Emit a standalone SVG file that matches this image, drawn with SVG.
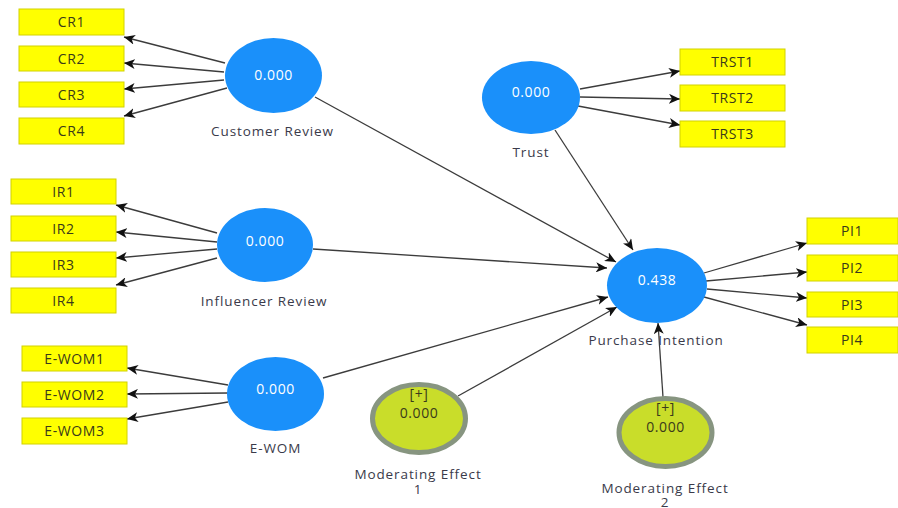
<svg xmlns="http://www.w3.org/2000/svg" width="898" height="508" viewBox="0 0 898 508">
  <style>
    .ind rect { fill: #FFFF00; stroke: #D2D200; stroke-width: 1; }
    .ind text { font-family: "Open Sans", "Noto Sans", sans-serif; font-size: 14px; letter-spacing: 0.6px; fill: #3a3a1a; text-anchor: middle; }
    .lv ellipse { fill: #1A90FA; }
    .lv .val { font-family: "Open Sans", "Noto Sans", sans-serif; font-size: 14px; letter-spacing: 0.6px; fill: #ffffff; text-anchor: middle; }
    .name { font-family: "Open Sans", "Noto Sans", sans-serif; font-size: 13.5px; letter-spacing: 0.9px; fill: #3a3a4a; text-anchor: middle; }
    .mod ellipse { fill: #C9DD2A; stroke: #879580; stroke-width: 5; }
    .mod .val { font-family: "Open Sans", "Noto Sans", sans-serif; font-size: 14px; letter-spacing: 0.6px; fill: #3a3a1a; text-anchor: middle; }
    #connectors line { stroke: #3c3c3c; stroke-width: 1.3; marker-end: url(#arrow); }
  </style>
  <defs>
    <marker id="arrow" markerUnits="userSpaceOnUse" markerWidth="12" markerHeight="10" refX="11" refY="5" orient="auto">
      <path d="M0,0 L11,5 L0,10 L3,5 z" fill="#111"/>
    </marker>
  </defs>
  <rect width="898" height="508" fill="#ffffff"/>

  <g id="connectors">
    <!-- Customer Review indicators -->
    <line x1="225" y1="63" x2="124" y2="37"/>
    <line x1="224" y1="72" x2="124" y2="63"/>
    <line x1="224" y1="80" x2="124" y2="89"/>
    <line x1="227" y1="88" x2="124" y2="116"/>
    <!-- Influencer Review indicators -->
    <line x1="217" y1="233" x2="116" y2="205"/>
    <line x1="217" y1="242" x2="116" y2="232"/>
    <line x1="217" y1="249" x2="116" y2="258"/>
    <line x1="217" y1="258" x2="116" y2="285"/>
    <!-- E-WOM indicators -->
    <line x1="228" y1="385" x2="127" y2="368"/>
    <line x1="228" y1="393" x2="127" y2="394"/>
    <line x1="228" y1="402" x2="127" y2="419"/>
    <!-- Trust indicators -->
    <line x1="580" y1="89" x2="680" y2="71"/>
    <line x1="580" y1="97" x2="680" y2="99"/>
    <line x1="578" y1="106" x2="680" y2="125"/>
    <!-- Purchase Intention indicators -->
    <line x1="704" y1="273" x2="807" y2="243"/>
    <line x1="706" y1="281" x2="807" y2="272"/>
    <line x1="707" y1="289" x2="807" y2="298"/>
    <line x1="704" y1="297" x2="807" y2="325"/>
    <!-- Structural paths -->
    <line x1="315" y1="97" x2="616" y2="262"/>
    <line x1="555" y1="130" x2="633" y2="250"/>
    <line x1="313" y1="249" x2="607" y2="268"/>
    <line x1="323" y1="378" x2="608" y2="297"/>
    <line x1="458" y1="396" x2="617" y2="307"/>
    <line x1="663" y1="397" x2="658" y2="323"/>
  </g>

  <!-- Indicators -->
  <g id="CR1" class="ind"><rect x="19" y="9" width="105" height="26"/><text x="71.5" y="27">CR1</text></g>
  <g id="CR2" class="ind"><rect x="19" y="46" width="105" height="25"/><text x="71.5" y="63.5">CR2</text></g>
  <g id="CR3" class="ind"><rect x="19" y="82" width="105" height="25"/><text x="71.5" y="99.5">CR3</text></g>
  <g id="CR4" class="ind"><rect x="19" y="118" width="105" height="26"/><text x="71.5" y="136">CR4</text></g>

  <g id="IR1" class="ind"><rect x="11" y="179" width="105" height="25"/><text x="63.5" y="196.5">IR1</text></g>
  <g id="IR2" class="ind"><rect x="11" y="216" width="105" height="25"/><text x="63.5" y="233.5">IR2</text></g>
  <g id="IR3" class="ind"><rect x="11" y="252" width="105" height="25"/><text x="63.5" y="269.5">IR3</text></g>
  <g id="IR4" class="ind"><rect x="11" y="288" width="105" height="25"/><text x="63.5" y="305.5">IR4</text></g>

  <g id="EWOM1" class="ind"><rect x="22" y="346" width="105" height="25"/><text x="74.5" y="363.5">E-WOM1</text></g>
  <g id="EWOM2" class="ind"><rect x="22" y="382" width="105" height="25"/><text x="74.5" y="399.5">E-WOM2</text></g>
  <g id="EWOM3" class="ind"><rect x="22" y="418" width="105" height="26"/><text x="74.5" y="436">E-WOM3</text></g>

  <g id="TRST1" class="ind"><rect x="680" y="49" width="105" height="26"/><text x="732.5" y="67">TRST1</text></g>
  <g id="TRST2" class="ind"><rect x="680" y="85" width="105" height="26"/><text x="732.5" y="103">TRST2</text></g>
  <g id="TRST3" class="ind"><rect x="680" y="121" width="105" height="26"/><text x="732.5" y="139">TRST3</text></g>

  <g id="PI1" class="ind"><rect x="807" y="218" width="91" height="26"/><text x="852" y="236">PI1</text></g>
  <g id="PI2" class="ind"><rect x="807" y="255" width="91" height="26"/><text x="852" y="273">PI2</text></g>
  <g id="PI3" class="ind"><rect x="807" y="292" width="91" height="25"/><text x="852" y="309.5">PI3</text></g>
  <g id="PI4" class="ind"><rect x="807" y="327" width="91" height="26"/><text x="852" y="345">PI4</text></g>

  <!-- Latent variables -->
  <g id="customer-review" class="lv">
    <ellipse cx="273.5" cy="75.5" rx="48.5" ry="37.5"/>
    <text class="val" x="273.5" y="80">0.000</text>
    <text class="name" x="272.5" y="136">Customer Review</text>
  </g>
  <g id="influencer-review" class="lv">
    <ellipse cx="265" cy="245" rx="48" ry="37"/>
    <text class="val" x="265" y="246">0.000</text>
    <text class="name" x="264" y="306">Influencer Review</text>
  </g>
  <g id="e-wom" class="lv">
    <ellipse cx="275.5" cy="394" rx="48.5" ry="37"/>
    <text class="val" x="275.5" y="394">0.000</text>
    <text class="name" x="275.5" y="453">E-WOM</text>
  </g>
  <g id="trust" class="lv">
    <ellipse cx="531" cy="97.5" rx="49" ry="36.5"/>
    <text class="val" x="531" y="97">0.000</text>
    <text class="name" x="531" y="157">Trust</text>
  </g>
  <g id="purchase-intention" class="lv">
    <ellipse cx="657" cy="285.5" rx="50" ry="37.5"/>
    <text class="val" x="657" y="285">0.438</text>
    <text class="name" x="656" y="345">Purchase Intention</text>
  </g>

  <!-- Moderating effects -->
  <g id="moderating-effect-1" class="mod">
    <ellipse cx="419" cy="418.5" rx="46.5" ry="34"/>
    <text class="val" x="419" y="399">[+]</text>
    <text class="val" x="419" y="418">0.000</text>
    <text class="name" x="418" y="479">Moderating Effect</text>
    <text class="name" x="418" y="494">1</text>
  </g>
  <g id="moderating-effect-2" class="mod">
    <ellipse cx="665.5" cy="432.5" rx="46.5" ry="34"/>
    <text class="val" x="665.5" y="413">[+]</text>
    <text class="val" x="665.5" y="432">0.000</text>
    <text class="name" x="665" y="493">Moderating Effect</text>
    <text class="name" x="665" y="507">2</text>
  </g>
</svg>
